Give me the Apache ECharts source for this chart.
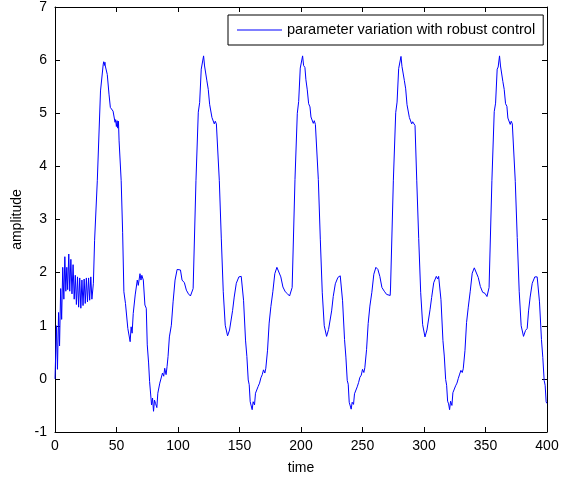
<!DOCTYPE html>
<html>
<head>
<meta charset="utf-8">
<script src="https://cdn.jsdelivr.net/npm/echarts@6/dist/echarts.min.js"></script>
<style>
html,body{margin:0;padding:0;background:#fff;}
#chart{width:573px;height:484px;}
</style>
</head>
<body>
<div id="chart"></div>
<script>
// ---- data ----
const seriesName = 'parameter variation with robust control';
const xTicks = [0, 50, 100, 150, 200, 250, 300, 350, 400];
const yTicks = [-1, 0, 1, 2, 3, 4, 5, 6, 7];

const tTransient = [0,1.2,2.0,2.9,3.7,4.6,5.4,6.3,7.2,8.0,8.8,9.6,10.3,11.2,12.0,12.9,13.8,14.7,15.6,16.5,17.4,18.3,19.2,20.1,21.0,21.9,22.8,23.7,24.6,25.5,26.4,27.3,28.2,29.1,30.0];
const yTransient = [0,1.0,0.18,1.25,0.62,1.70,1.12,2.10,1.50,2.30,1.65,2.10,1.68,2.35,1.65,2.25,1.60,2.15,1.50,1.95,1.40,1.92,1.35,1.90,1.33,1.86,1.38,1.88,1.42,1.90,1.45,1.90,1.48,1.92,1.50];

const tPeriod1 = [31.2,32.2,34.4,37.0,39.2,39.6,40.1,40.6,40.9,42.5,43.9,45.0,47.2,48.8,49.3,49.9,50.5,51.0,51.6,52.1,53.8,55.0,56.0,57.3,59.2,60.0,61.1,61.9,62.7,63.6,64.4,65.2,66.1,66.9,67.7,69.1,69.9,70.6,71.3,71.8,73.1,74.2,75.0,76.1,76.9,77.7,78.5,79.3,80.1,80.9,81.7,82.8,83.6,84.4,85.2,86.3,87.4,88.4,89.2,90.3,91.1,91.9,93.0,94.6,96.0,97.6,99.3,100.9,102.0,103.3,105.2,106.8,108.5,110.1,111.7];
const yPeriod1 = [1.80,2.61,3.73,5.42,5.92,5.97,5.90,5.96,5.89,5.73,5.36,5.11,5.04,4.83,4.88,4.75,4.86,4.72,4.85,4.48,3.73,2.75,1.64,1.42,0.95,0.98,0.70,0.98,0.86,1.23,1.25,1.58,1.60,1.86,1.76,1.98,1.86,1.95,1.98,1.86,1.39,1.33,0.64,0.30,-0.05,-0.08,-0.49,-0.36,-0.61,-0.40,-0.46,-0.54,-0.27,-0.30,-0.08,-0.05,0.11,0.05,0.20,0.08,0.23,0.42,0.79,1.01,1.45,1.86,2.06,2.09,2.05,1.86,1.81,1.67,1.60,1.56,1.57];

const tPeriod2 = [112.3,114.6,116.5,117.6,118.9,119.7,120.8,121.6,122.7,123.5,124.6,125.7,126.8,127.6,128.7,129.5,130.3,131.2,132.2,133.6,135.2,136.8,138.4,140.3,141.9,143.3,144.4,145.7,147.4,148.5,149.5,150.6,151.4,153.3,154.9,156.0,157.1,157.9,158.7,159.5,160.3,161.1,162.2,163.0,164.1,165.2,166.3,167.4,168.5,169.5,170.6,171.4,172.8,174.1,175.5,177.1,178.7,180.4,182.0,183.6,185.3,187.2,189.1,190.7,192.0];
const yPeriod2 = [1.70,3.73,5.02,5.20,5.83,5.86,6.08,5.89,5.87,5.61,5.45,5.17,5.14,4.92,4.91,4.80,4.85,4.80,4.78,3.73,2.65,1.64,1.01,0.81,0.92,0.95,1.29,1.54,1.80,1.81,1.92,1.89,1.93,1.48,0.73,0.42,-0.02,-0.11,-0.43,-0.46,-0.58,-0.43,-0.49,-0.27,-0.28,-0.14,-0.08,0.02,0.08,0.17,0.11,0.20,0.54,1.05,1.36,1.64,1.98,2.10,2.07,1.92,1.73,1.64,1.60,1.56,1.56];

const tPeriod3 = [192.8,195.1,197.0,198.1,199.4,200.2,201.3,202.1,203.2,204.0,205.1,206.2,207.3,208.1,209.2,210.0,210.8,211.7,212.7,214.1,215.7,217.3,218.9,220.8,222.4,223.8,224.9,226.2,227.9,229.0,230.0,231.1,231.9,233.8,235.4,236.5,237.6,238.4,239.2,240.0,240.8,241.6,242.7,243.5,244.6,245.7,246.8,247.9,249.0,250.0,251.1,251.9,253.3,254.6,256.0,257.6,259.2,260.9,262.5,264.1,265.8,267.7,269.6,271.2,272.5];
const yPeriod3 = [1.72,3.75,5.00,5.22,5.85,5.84,6.08,5.90,5.86,5.63,5.44,5.18,5.12,4.93,4.90,4.81,4.86,4.79,4.78,3.75,2.63,1.62,1.00,0.80,0.93,0.96,1.28,1.55,1.79,1.82,1.91,1.90,1.94,1.47,0.74,0.41,-0.03,-0.10,-0.44,-0.45,-0.57,-0.44,-0.48,-0.28,-0.27,-0.15,-0.07,0.03,0.07,0.18,0.12,0.21,0.55,1.04,1.37,1.63,1.97,2.10,2.06,1.93,1.72,1.65,1.59,1.56,1.57];

const tPeriod4 = [272.8,275.1,277.0,278.1,279.4,280.2,281.3,282.1,283.2,284.0,285.1,286.2,287.3,288.1,289.2,290.0,290.8,291.7,292.7,294.1,295.7,297.3,298.9,300.8,302.4,303.8,304.9,306.2,307.9,309.0,310.0,311.1,311.9,313.8,315.4,316.5,317.6,318.4,319.2,320.0,320.8,321.6,322.7,323.5,324.6,325.7,326.8,327.9,329.0,330.0,331.1,331.9,333.3,334.6,336.0,337.6,339.2,340.9,342.5,344.1,345.8,347.7,349.6,351.2,352.5];
const yPeriod4 = [1.71,3.74,5.01,5.21,5.84,5.85,6.07,5.88,5.87,5.62,5.46,5.16,5.13,4.92,4.92,4.80,4.84,4.81,4.77,3.74,2.64,1.63,1.02,0.79,0.92,0.94,1.30,1.53,1.81,1.80,1.93,1.88,1.93,1.49,0.72,0.43,-0.01,-0.12,-0.42,-0.47,-0.58,-0.42,-0.50,-0.26,-0.29,-0.13,-0.08,0.01,0.09,0.16,0.12,0.19,0.53,1.06,1.35,1.65,1.99,2.09,2.08,1.91,1.74,1.63,1.61,1.55,1.56];

const tPeriod5 = [352.9,355.2,357.1,358.2,359.5,360.3,361.4,362.2,363.3,364.1,365.2,366.3,367.4,368.2,369.3,370.1,370.9,371.8,372.8,374.2,375.8,377.4,379.0,380.9,382.5,383.9,385.0,386.3,388.0,389.1,390.1,391.2,392.0,393.9,395.5,396.6,397.7,398.5,399.3,399.8];
const yPeriod5 = [1.72,3.73,5.03,5.19,5.83,5.87,6.08,5.89,5.88,5.60,5.45,5.18,5.13,4.91,4.92,4.79,4.85,4.80,4.79,3.72,2.66,1.65,1.00,0.80,0.91,0.95,1.28,1.54,1.80,1.82,1.92,1.90,1.92,1.45,0.74,0.40,-0.03,-0.12,-0.43,-0.46];

// ---- assemble ----
const time = [].concat(tTransient, tPeriod1, tPeriod2, tPeriod3, tPeriod4, tPeriod5);
const amplitude = [].concat(yTransient, yPeriod1, yPeriod2, yPeriod3, yPeriod4, yPeriod5);
const points = time.map((t, i) => [t, amplitude[i]]);

const FONT = '"Liberation Sans", Arial, sans-serif';
const chart = echarts.init(document.getElementById('chart'), null, {renderer: 'canvas'});

const tickStyle = {show: true, inside: true, length: 5, lineStyle: {color: '#000', width: 1}};
const lineAxis = {show: true, onZero: false, lineStyle: {color: '#000', width: 1}};

chart.setOption({
  animation: false,
  backgroundColor: '#fff',
  grid: {left: 55, right: 26, top: 6, bottom: 52, containLabel: false},
  legend: {
    data: [{name: seriesName, icon: 'rect'}],
    left: 228, top: 15,
    orient: 'horizontal',
    backgroundColor: '#fff',
    borderColor: '#000', borderWidth: 1, borderRadius: 0,
    padding: [7, 8, 7, 9],
    itemWidth: 45, itemHeight: 1,
    textStyle: {fontFamily: FONT, fontSize: 14.6, color: '#000', lineHeight: 16}
  },
  xAxis: [{
    type: 'value', min: xTicks[0], max: xTicks[xTicks.length - 1], interval: 50,
    position: 'bottom',
    name: 'time', nameLocation: 'middle', nameGap: 29,
    nameTextStyle: {fontFamily: FONT, fontSize: 14, color: '#000'},
    axisLine: lineAxis, axisTick: tickStyle,
    axisLabel: {fontFamily: FONT, fontSize: 14, color: '#000', margin: 7},
    splitLine: {show: false}
  }, {
    type: 'value', min: xTicks[0], max: xTicks[xTicks.length - 1], interval: 50,
    position: 'top',
    axisLine: lineAxis, axisTick: tickStyle,
    axisLabel: {show: false}, splitLine: {show: false}
  }],
  yAxis: [{
    type: 'value', min: yTicks[0], max: yTicks[yTicks.length - 1], interval: 1,
    position: 'left',
    name: 'amplitude', nameLocation: 'middle', nameGap: 27, nameRotate: 90,
    nameTextStyle: {fontFamily: FONT, fontSize: 14, color: '#000'},
    axisLine: lineAxis, axisTick: tickStyle,
    axisLabel: {fontFamily: FONT, fontSize: 14, color: '#000', margin: 8},
    splitLine: {show: false}
  }, {
    type: 'value', min: yTicks[0], max: yTicks[yTicks.length - 1], interval: 1,
    position: 'right',
    axisLine: lineAxis, axisTick: tickStyle,
    axisLabel: {show: false}, splitLine: {show: false}
  }],
  series: [{
    name: seriesName,
    type: 'line',
    data: points,
    xAxisIndex: 0, yAxisIndex: 0,
    symbol: 'none', showSymbol: false,
    smooth: false,
    lineStyle: {color: '#0000ff', width: 1},
    itemStyle: {color: '#0000ff'},
    z: 3
  }]
});
</script>
</body>
</html>
